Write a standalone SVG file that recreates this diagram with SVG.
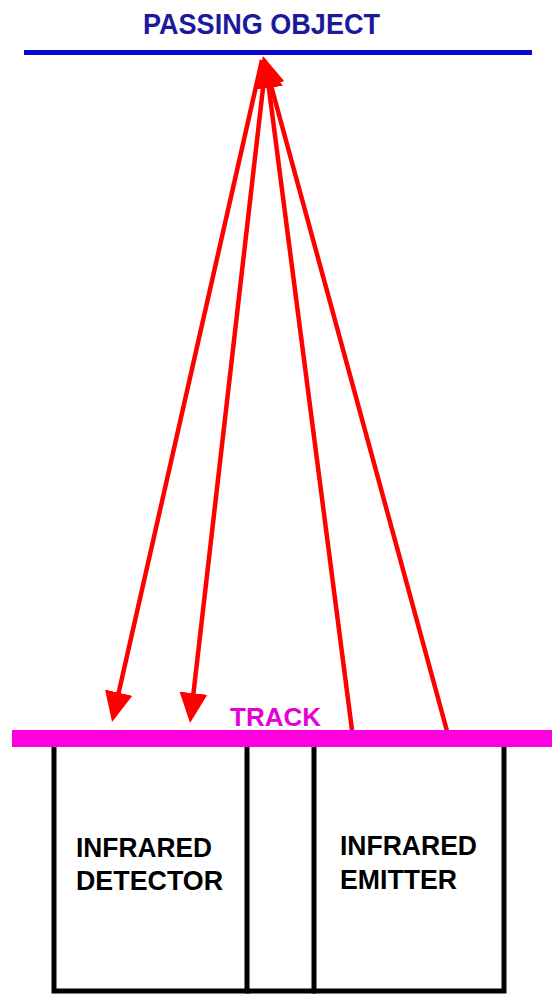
<svg xmlns="http://www.w3.org/2000/svg" width="552" height="994" viewBox="0 0 552 994">
  <style>
    .lbl { font-family: "Liberation Sans", Arial, sans-serif; font-weight: bold; }
    .box { fill: none; stroke: #000; stroke-width: 5; }
    .ray { stroke: #ff0000; stroke-width: 4.5; fill: none; marker-end: url(#ah); }
  </style>
  <defs>
    <marker id="ah" viewBox="0 -15 30 30" refX="4" refY="0" markerWidth="30" markerHeight="30" markerUnits="userSpaceOnUse" orient="auto">
      <path d="M0,-14 L30,0 L0,14 z" fill="#ff0000"/>
    </marker>
  </defs>
  <rect width="552" height="994" fill="#ffffff"/>

  <g id="passing-object">
    <line x1="24" y1="52.5" x2="532" y2="52.5" stroke="#0808d0" stroke-width="5"/>
    <text class="lbl" x="143" y="34" font-size="29" fill="#1a1a9c" textLength="237" lengthAdjust="spacingAndGlyphs">PASSING OBJECT</text>
  </g>

  <g id="connectors">
    <line class="ray" x1="262" y1="60" x2="117.8" y2="696.6"/>
    <line class="ray" x1="266" y1="62" x2="193" y2="697.2"/>
    <line class="ray" x1="352" y1="730" x2="268.3" y2="83.8"/>
    <line class="ray" x1="447" y1="731" x2="269.8" y2="81.1"/>
  </g>

  <g id="track">
    <rect x="12" y="730" width="540" height="17" fill="#ff00dd"/>
    <text class="lbl" x="230" y="726" font-size="26" fill="#e600d6">TRACK</text>
  </g>

  <g id="infrared-detector">
    <path class="box" d="M54,747 V991 H247 V747"/>
    <text class="lbl" x="76" y="857" font-size="27" fill="#000" textLength="136" lengthAdjust="spacingAndGlyphs">INFRARED</text>
    <text class="lbl" x="76" y="890" font-size="27" fill="#000" textLength="147" lengthAdjust="spacingAndGlyphs">DETECTOR</text>
  </g>

  <g id="gap">
    <line x1="245" y1="991" x2="316" y2="991" stroke="#000" stroke-width="5"/>
  </g>

  <g id="infrared-emitter">
    <path class="box" d="M314,747 V991 H504 V747"/>
    <text class="lbl" x="340" y="855" font-size="27" fill="#000" textLength="137" lengthAdjust="spacingAndGlyphs">INFRARED</text>
    <text class="lbl" x="340" y="889" font-size="27" fill="#000" textLength="117" lengthAdjust="spacingAndGlyphs">EMITTER</text>
  </g>
</svg>
